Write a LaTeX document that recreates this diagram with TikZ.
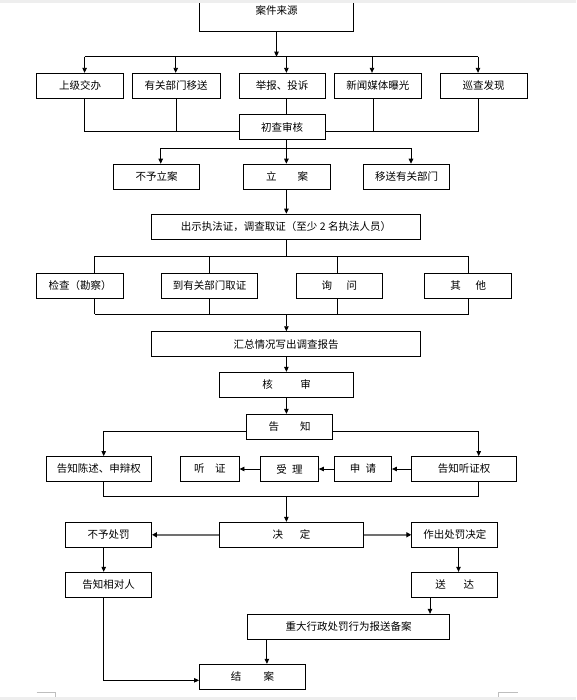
\documentclass[tikz,border=0pt]{standalone}
\usepackage{fontspec}
\newfontfamily\cjk{Noto Sans CJK SC}
\usetikzlibrary{arrows.meta}
\definecolor{garrow}{RGB}{112,112,112}
\definecolor{bandgray}{RGB}{238,238,238}
\definecolor{cornergray}{RGB}{190,190,190}
\begin{document}
\begin{tikzpicture}[x=1pt,y=-1pt,
  box/.style={draw,line width=0.9pt,fill=white,inner sep=0pt,minimum height=25pt,
    font=\cjk\fontsize{10.5}{12}\selectfont},
  ln/.style={line width=0.9pt},
  arr/.style={line width=0.9pt,-{Triangle[length=5pt,width=4.5pt]}},
  garr/.style={line width=1.8pt,draw=garrow,-{Triangle[length=5pt,width=5pt,color=black]}}
]
\useasboundingbox (0,0) rectangle (576,700);
\fill[white] (0,0) rectangle (576,700);

% nodes
\node[box,minimum width=154pt,minimum height=42pt] (src) at (276.5,10.4) {案件来源};

\node[box,minimum width=87pt] (sj) at (80,85.8) {上级交办};
\node[box,minimum width=87.5pt] (yg) at (176.2,85.8) {有关部门移送};
\node[box,minimum width=86pt] (jb) at (282,85.8) {举报、投诉};
\node[box,minimum width=86.4pt] (xw) at (377.8,85.8) {新闻媒体曝光};
\node[box,minimum width=87pt] (xc) at (483.5,85.8) {巡查发现};

\node[box,minimum width=86pt] (chk) at (282,127) {初查审核};

\node[box,minimum width=86pt] (bylz) at (156.6,176.7) {不予立案};
\node[box,minimum width=87pt] (la) at (287,176.7) {立\hspace{2em}案};
\node[box,minimum width=86pt] (ysbm) at (406.6,176.7) {移送有关部门};

\node[box,minimum width=269pt] (cs) at (286,226.7) {出示执法证，调查取证（至少 2 名执法人员）};

\node[box,minimum width=87pt] (jc) at (80,285.8) {检查（勘察）};
\node[box,minimum width=95.6pt] (dy) at (209.6,285.8) {到有关部门取证};
\node[box,minimum width=86.7pt] (xunw) at (339.4,285.8) {询\hspace{1.4em}问};
\node[box,minimum width=87.2pt] (qt) at (468.2,285.8) {其\hspace{1.4em}他};

\node[box,minimum width=269pt] (hz) at (286,344.2) {汇总情况写出调查报告};
\node[box,minimum width=134.2pt] (hs) at (286.6,384.8) {核\hspace{2.6em}审};
\node[box,minimum width=86.4pt] (gz) at (289.5,426.8) {告\hspace{2em}知};

\node[box,minimum width=105.2pt] (gzcs) at (98.9,469) {告知陈述、申辩权};
\node[box,minimum width=58.5pt] (tz) at (209.75,469) {听\hspace{1em}证};
\node[box,minimum width=57.7pt] (sl) at (289.55,469) {受\hspace{0.5em}理};
\node[box,minimum width=56.9pt] (sq) at (363,469) {申\hspace{0.5em}请};
\node[box,minimum width=104.7pt] (gztzq) at (464.2,469) {告知听证权};

\node[box,minimum width=86pt] (bycf) at (108.5,534.8) {不予处罚};
\node[box,minimum width=144pt] (jd) at (291.5,534.8) {决\hspace{1.6em}定};
\node[box,minimum width=86pt] (zccf) at (454.8,534.8) {作出处罚决定};

\node[box,minimum width=86pt] (gzxd) at (108.5,584.8) {告知相对人};
\node[box,minimum width=86pt] (sd) at (454.8,584.8) {送\hspace{1.7em}达};

\node[box,minimum width=202.2pt] (zd) at (348.5,626.8) {重大行政处罚行为报送备案};
\node[box,minimum width=106pt] (ja) at (252.5,676.8) {结\hspace{2.1em}案};

% coordinates
\coordinate (mx) at (286.4,0);
\coordinate (b1l) at (84.6,56.7);
\coordinate (b1b) at (175.7,56.7);
\coordinate (b1c) at (286.4,56.7);
\coordinate (b1d) at (372,56.7);
\coordinate (b1r) at (478,56.7);
\coordinate (c1a) at (84.6,131.5);
\coordinate (c1b) at (176.5,131.5);
\coordinate (c1d) at (373,131.5);
\coordinate (c1e) at (478.7,131.5);
\coordinate (b2l) at (160.7,148.3);
\coordinate (b2m) at (286.4,148.3);
\coordinate (b2r) at (411,148.3);
\coordinate (b3a) at (94.9,256.3);
\coordinate (b3b) at (209.6,256.3);
\coordinate (b3c) at (337.5,256.3);
\coordinate (b3d) at (468.7,256.3);
\coordinate (b3m) at (286.4,256.3);
\coordinate (b4a) at (94.9,314);
\coordinate (b4b) at (209.6,314);
\coordinate (b4c) at (337.5,314);
\coordinate (b4d) at (468.7,314);
\coordinate (b4m) at (286.4,314);
\coordinate (g1) at (103.7,431.3);
\coordinate (g2) at (478.7,431.3);
\coordinate (b5a) at (103.7,496.7);
\coordinate (b5b) at (478.7,496.7);
\coordinate (b5m) at (286.4,496.7);
\coordinate (x458) at (458.5,0);
\coordinate (x430) at (430,0);
\coordinate (x267) at (266.9,0);
\coordinate (k) at (103.7,680.3);

% connectors
\draw[arr] (src.south) -- (src.south |- b1l);
\draw[ln] (b1l) -- (b1r);
\draw[arr] (b1l) -- (b1l |- sj.north);
\draw[arr] (b1b) -- (b1b |- yg.north);
\draw[arr] (b1c) -- (b1c |- jb.north);
\draw[arr] (b1d) -- (b1d |- xw.north);
\draw[arr] (b1r) -- (b1r |- xc.north);

\draw[ln] (c1a |- sj.south) -- (c1a) -- (c1b) -- (c1b |- yg.south);
\draw[ln] (c1b) -- (chk.west |- c1b);
\draw[ln] (chk.east |- c1d) -- (c1d) -- (c1e) -- (c1e |- xc.south);
\draw[ln] (c1d) -- (c1d |- xw.south);
\draw[ln] (jb.south -| mx) -- (chk.north -| mx);

\draw[ln] (chk.south -| mx) -- (b2m);
\draw[ln] (b2l) -- (b2r);
\draw[arr] (b2l) -- (b2l |- bylz.north);
\draw[arr] (b2m) -- (la.north -| mx);
\draw[arr] (b2r) -- (b2r |- ysbm.north);

\draw[arr] (la.south -| mx) -- (cs.north -| mx);

\draw[ln] (cs.south -| mx) -- (b3m);
\draw[ln] (b3a) -- (b3d);
\draw[ln] (b3a) -- (b3a |- jc.north);
\draw[ln] (b3b) -- (b3b |- dy.north);
\draw[ln] (b3c) -- (b3c |- xunw.north);
\draw[ln] (b3d) -- (b3d |- qt.north);

\draw[ln] (b4a |- jc.south) -- (b4a);
\draw[ln] (b4b |- dy.south) -- (b4b);
\draw[ln] (b4c |- xunw.south) -- (b4c);
\draw[ln] (b4d |- qt.south) -- (b4d);
\draw[ln] (b4a) -- (b4d);
\draw[arr] (b4m) -- (hz.north -| mx);

\draw[arr] (hz.south -| mx) -- (hs.north -| mx);
\draw[arr] (hs.south -| mx) -- (gz.north -| mx);

\draw[arr] (gz.west |- g1) -- (g1) -- (g1 |- gzcs.north);
\draw[arr] (gz.east |- g2) -- (g2) -- (g2 |- gztzq.north);

\draw[arr] (gztzq) -- (sq);
\draw[arr] (sq) -- (sl);
\draw[arr] (sl) -- (tz);

\draw[ln] (b5a |- gzcs.south) -- (b5a) -- (b5b) -- (b5b |- gztzq.south);
\draw[arr] (b5m) -- (jd.north -| mx);

\draw[garr] (jd) -- (bycf);
\draw[garr] (jd) -- (zccf);

\draw[arr] (bycf.south -| b5a) -- (gzxd.north -| b5a);
\draw[arr] (zccf.south -| x458) -- (sd.north -| x458);
\draw[arr] (sd.south -| x430) -- (zd.north -| x430);
\draw[arr] (zd.south -| x267) -- (ja.north -| x267);
\draw[arr] (gzxd.south -| k) -- (k) -- (ja.west |- k);

% page artefacts
\fill[bandgray] (0,0) rectangle (576,3);
\fill[bandgray] (0,697.3) rectangle (576,700);
\draw[cornergray,line width=0.8pt] (36.7,692.7) -- (55,692.7) -- (55,697.3);
\draw[cornergray,line width=0.8pt] (517.7,692.7) -- (498.3,692.7) -- (498.3,697.3);
\end{tikzpicture}
\end{document}
